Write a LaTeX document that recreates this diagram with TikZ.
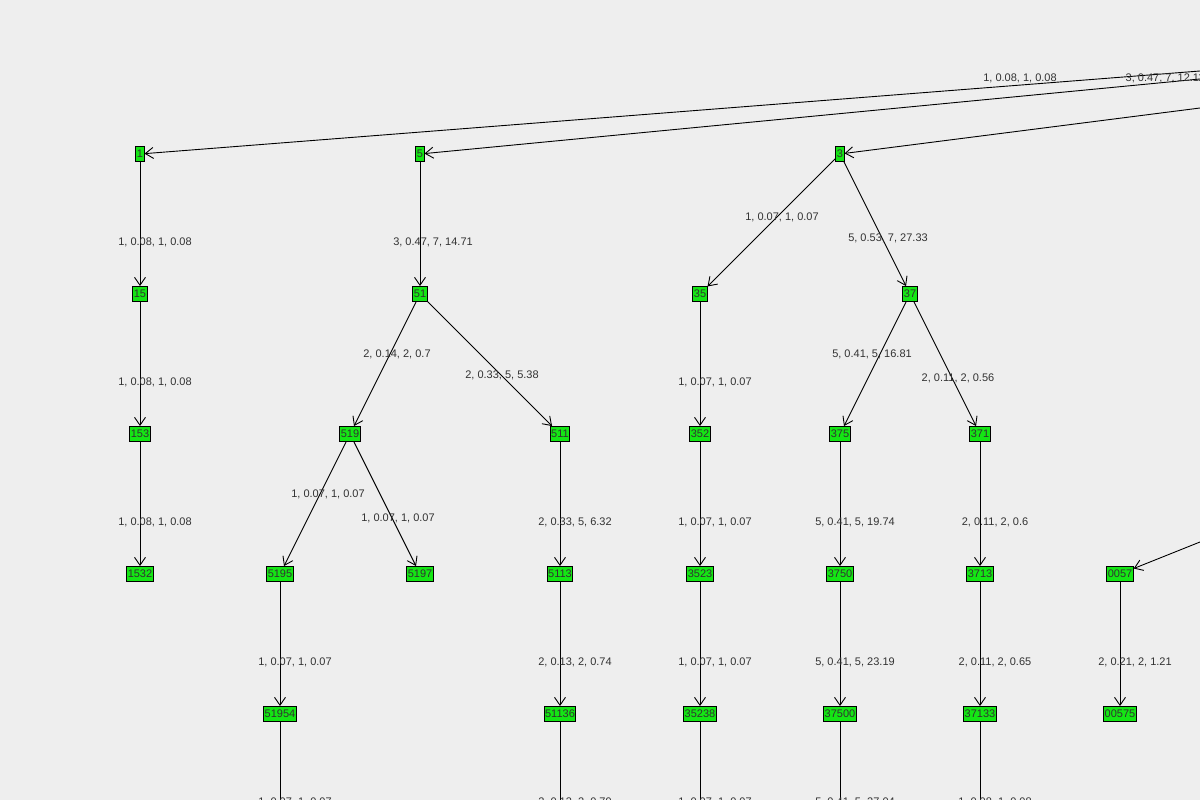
\documentclass[tikz,border=0pt]{standalone}
\usepackage{fontspec}
\setmainfont{Liberation Sans}
\usetikzlibrary{arrows.meta}
\definecolor{bg}{RGB}{238,238,238}
\definecolor{ng}{RGB}{20,230,20}
\definecolor{tx}{RGB}{50,50,50}
\begin{document}
\begin{tikzpicture}[x=1pt,y=-1pt,line width=0.9pt,
  nd/.style={draw=black,fill=ng,inner sep=1pt,minimum height=15pt,minimum width=8pt,font=\fontsize{11}{12}\selectfont,text=tx},
  ed/.style={draw=black,-{Straight Barb[length=8pt,width=11pt]}},
  lb/.style={font=\fontsize{11}{12}\selectfont,text=tx}]
\fill[bg] (0,0) rectangle (1200,800);
\useasboundingbox (0,0) rectangle (1200,800);
\clip (0,0) rectangle (1200,800);
\foreach \n/\t/\x/\y in {a/1/140/154,b/5/420/154,c/3/840/154,
 a1/15/140/294,a2/153/140/434,a3/1532/140/574,
 b1/51/420/294,b2/519/350/434,b3/511/560/434,b4/5195/280/574,b5/5197/420/574,b6/51954/280/714,b7/5113/560/574,b8/51136/560/714,
 c1/35/700/294,c2/352/700/434,c3/3523/700/574,c4/35238/700/714,
 d1/37/910/294,d2/375/840/434,d3/371/980/434,d4/3750/840/574,d5/37500/840/714,d6/3713/980/574,d7/37133/980/714,
 e1/0057/1120/574,e2/00575/1120/714}
 \node[nd] (\n) at (\x,\y) {\t};
\coordinate (ta) at (1200,71);
\coordinate (tb) at (1200,79);
\coordinate (tc) at (1200,108);
\coordinate (te) at (1200,542);
\foreach \n in {b6,b8,c4,d5,d7}{\coordinate (\n z) at ([yshift=-120pt]\n.south);}
\draw[ed] (ta) -- (a);
\draw[ed] (tb) -- (b);
\draw[ed] (tc) -- (c);
\draw[ed] (te) -- (e1);
\foreach \p/\q in {a/a1,a1/a2,a2/a3,b/b1,b1/b2,b1/b3,b2/b4,b2/b5,b4/b6,b3/b7,b7/b8,c/c1,c/d1,c1/c2,c2/c3,c3/c4,d1/d2,d1/d3,d2/d4,d4/d5,d3/d6,d6/d7,e1/e2}
 \draw[ed] (\p) -- (\q);
\foreach \n in {b6,b8,c4,d5,d7} \draw (\n.south) -- (\n z);
\foreach \x/\y/\t in {1020/78/{1, 0.08, 1, 0.08},1165/78/{3, 0.47, 7, 12.11},
 155/242/{1, 0.08, 1, 0.08},155/382/{1, 0.08, 1, 0.08},155/522/{1, 0.08, 1, 0.08},
 433/242/{3, 0.47, 7, 14.71},782/217/{1, 0.07, 1, 0.07},888/238/{5, 0.53, 7, 27.33},
 397/354/{2, 0.14, 2, 0.7},502/375/{2, 0.33, 5, 5.38},715/382/{1, 0.07, 1, 0.07},
 872/354/{5, 0.41, 5, 16.81},958/378/{2, 0.11, 2, 0.56},
 328/494/{1, 0.07, 1, 0.07},398/518/{1, 0.07, 1, 0.07},575/522/{2, 0.33, 5, 6.32},
 715/522/{1, 0.07, 1, 0.07},855/522/{5, 0.41, 5, 19.74},995/522/{2, 0.11, 2, 0.6},
 295/662/{1, 0.07, 1, 0.07},575/662/{2, 0.13, 2, 0.74},715/662/{1, 0.07, 1, 0.07},
 855/662/{5, 0.41, 5, 23.19},995/662/{2, 0.11, 2, 0.65},1135/662/{2, 0.21, 2, 1.21},
 295/802/{1, 0.07, 1, 0.07},575/802/{2, 0.13, 2, 0.79},715/802/{1, 0.07, 1, 0.07},
 855/802/{5, 0.41, 5, 27.04},995/802/{1, 0.08, 1, 0.08}}
 \node[lb] at (\x,\y) {\t};
\end{tikzpicture}
\end{document}
